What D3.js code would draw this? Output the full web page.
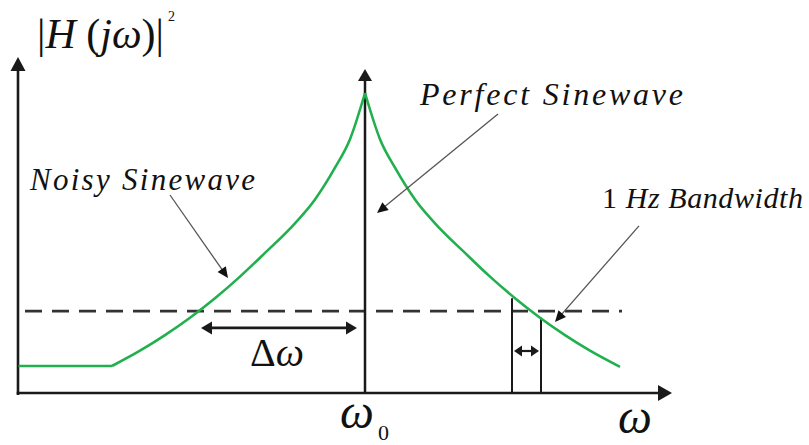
<!DOCTYPE html>
<html>
<head>
<meta charset="utf-8">
<script src="https://cdn.jsdelivr.net/npm/d3@7"></script>
<style>
  html, body { margin: 0; padding: 0; background: #fff; }
  svg { display: block; }
</style>
</head>
<body>
<svg id="chart" width="809" height="445"></svg>
<script>
// Frequency offset from the carrier (ω - ω0) and normalised power |H(jω)|²
const riseOffset = [-5.06, -4.5, -4.0, -3.5, -3.0, -2.5, -2.0, -1.5, -1.0, -0.6, -0.3, 0];
const risePower  = [0.09, 0.141, 0.193, 0.251, 0.316, 0.388, 0.467, 0.548, 0.645, 0.751, 0.846, 1.0];
const fallOffset = [0, 0.3, 0.6, 1.0, 1.5, 2.0, 2.5, 3.0, 3.5, 4.0, 4.5, 5.1];
const fallPower  = [1.0, 0.846, 0.751, 0.645, 0.548, 0.467, 0.388, 0.316, 0.251, 0.193, 0.141, 0.087];
const noiseFloor = 0.09;          // flat floor left of the skirt
const thresholdLevel = 0.273;     // dashed reference level
const thresholdSpan = [-6.8, 5.14];
const deltaSpan = [-3.28, -0.16]; // Δω arrow extent
const deltaLevel = 0.217;
const bandEdges = [2.94, 3.52];   // 1 Hz bin edges
const bandTops = [0.316, 0.251];
const bandArrowLevel = 0.14;
const xDomain = [-6.94, 6.14];
const yDomain = [0, 1.12];

const serif = "'Liberation Serif', Tinos, 'Times New Roman', Times, 'Noto Serif', 'DejaVu Serif', serif";

const svg = d3.select("#chart");
const x = d3.scaleLinear().domain(xDomain).range([18, 672]);
const y = d3.scaleLinear().domain(yDomain).range([393, 57]);

const ink = "#1a1a1a";
const green = "#22b04f";

function head(g, tipX, tipY, angle, len, wid, color) {
  // filled triangular arrowhead pointing along angle (radians)
  const c = Math.cos(angle), s = Math.sin(angle);
  const bx = tipX - c * len, by = tipY - s * len;
  const px = -s * wid / 2, py = c * wid / 2;
  g.append("path")
    .attr("d", `M${tipX},${tipY}L${bx + px},${by + py}L${bx - px},${by - py}Z`)
    .attr("fill", color || ink);
}

function arrowLine(g, x1, y1, x2, y2, opts) {
  const a = Math.atan2(y2 - y1, x2 - x1);
  const back = opts.len * 0.85;
  g.append("line")
    .attr("x1", x1).attr("y1", y1)
    .attr("x2", x2 - Math.cos(a) * back).attr("y2", y2 - Math.sin(a) * back)
    .attr("stroke", opts.stroke).attr("stroke-width", opts.width);
  head(g, x2, y2, a, opts.len, opts.wid, opts.head);
}

const g = svg.append("g");

// dashed reference level
g.append("line")
  .attr("x1", x(thresholdSpan[0])).attr("x2", x(thresholdSpan[1]))
  .attr("y1", y(thresholdLevel)).attr("y2", y(thresholdLevel))
  .attr("stroke", "#333").attr("stroke-width", 2.6)
  .attr("stroke-dasharray", "17,10");

// axes
arrowLine(g, x(xDomain[0]), y(0) + 2, x(xDomain[0]), y(yDomain[1]), { len: 14, wid: 15, stroke: ink, width: 2.6 });
arrowLine(g, x(xDomain[0]) - 1.3, y(0), x(xDomain[1]), y(0), { len: 14, wid: 16, stroke: ink, width: 2.6 });

// ideal sinewave: single spectral line at ω0
arrowLine(g, x(0), y(0), x(0), y(1.08), { len: 12, wid: 14, stroke: ink, width: 2.5 });

// 1 Hz bin edges
bandEdges.forEach((b, i) => {
  g.append("line")
    .attr("x1", x(b)).attr("x2", x(b))
    .attr("y1", y(0)).attr("y2", y(bandTops[i]))
    .attr("stroke", ink).attr("stroke-width", 2);
});
// bin-width double arrow
{
  const xa = x(bandEdges[0]) + 2, xb = x(bandEdges[1]) - 2, yy = y(bandArrowLevel);
  g.append("line").attr("x1", xa + 6).attr("x2", xb - 6).attr("y1", yy).attr("y2", yy)
    .attr("stroke", ink).attr("stroke-width", 2.2);
  head(g, xa, yy, Math.PI, 8, 11);
  head(g, xb, yy, 0, 8, 11);
}

// Δω double arrow
{
  const xa = x(deltaSpan[0]), xb = x(deltaSpan[1]), yy = y(deltaLevel);
  g.append("line").attr("x1", xa + 8).attr("x2", xb - 8).attr("y1", yy).attr("y2", yy)
    .attr("stroke", ink).attr("stroke-width", 2.6);
  head(g, xa, yy, Math.PI, 11, 13);
  head(g, xb, yy, 0, 11, 13);
}

// noisy sinewave spectrum
const line = d3.line().x(d => x(d[0])).y(d => y(d[1]));
g.append("path")
  .datum([[xDomain[0] + 0.01, noiseFloor], [riseOffset[0], noiseFloor]])
  .attr("d", line.curve(d3.curveLinear))
  .attr("fill", "none").attr("stroke", green).attr("stroke-width", 2.6);
g.append("path")
  .datum(riseOffset.map((o, i) => [o, risePower[i]]))
  .attr("d", line.curve(d3.curveMonotoneX))
  .attr("fill", "none").attr("stroke", green).attr("stroke-width", 2.6);
g.append("path")
  .datum(fallOffset.map((o, i) => [o, fallPower[i]]))
  .attr("d", line.curve(d3.curveMonotoneX))
  .attr("fill", "none").attr("stroke", green).attr("stroke-width", 2.6);

// leader lines for annotations
const leader = { len: 11, wid: 10, stroke: "#555", width: 1.3, head: "#111" };
arrowLine(g, x(-3.9), y(0.66), x(-2.74), y(0.383), leader);
arrowLine(g, x(2.66), y(0.93), x(0.24), y(0.6), leader);
arrowLine(g, x(5.48), y(0.557), x(3.8), y(0.237), leader);

// labels
const t = svg.append("g").attr("font-family", serif).attr("fill", "#111");

// y-axis title |H(jω)|²
const yl = t.append("text").attr("x", 37).attr("y", 48).attr("font-size", 42)
  .attr("textLength", 127).attr("lengthAdjust", "spacing");
yl.append("tspan").text("|");
yl.append("tspan").attr("font-style", "italic").text("H");
yl.append("tspan").text(" (");
yl.append("tspan").attr("font-style", "italic").text("jω");
yl.append("tspan").text(")|");
t.append("text").attr("x", 168).attr("y", 21).attr("font-size", 14).text("2");

t.append("text").attr("x", 30).attr("y", 190).attr("font-size", 31)
  .attr("font-style", "italic").attr("textLength", 225).attr("lengthAdjust", "spacing")
  .text("Noisy Sinewave");

t.append("text").attr("x", 420).attr("y", 105).attr("font-size", 32)
  .attr("font-style", "italic").attr("textLength", 263).attr("lengthAdjust", "spacing")
  .text("Perfect Sinewave");

const bw = t.append("text").attr("x", 602).attr("y", 208).attr("font-size", 30)
  .attr("textLength", 201).attr("lengthAdjust", "spacing");
bw.append("tspan").text("1 ");
bw.append("tspan").attr("font-style", "italic").text("Hz Bandwidth");

const dl = t.append("text").attr("x", x(-1.76)).attr("y", 366).attr("font-size", 40)
  .attr("text-anchor", "middle");
dl.append("tspan").text("Δ");
dl.append("tspan").attr("font-style", "italic").text("ω");

const w0 = t.append("text").attr("x", x(0) - 25).attr("y", 428).attr("font-size", 48);
w0.append("tspan").attr("font-style", "italic").text("ω");
w0.append("tspan").attr("font-size", 22).attr("dx", 4).attr("dy", 12).text("0");

t.append("text").attr("x", 618).attr("y", 433).attr("font-size", 48)
  .attr("font-style", "italic").text("ω");
</script>
</body>
</html>
